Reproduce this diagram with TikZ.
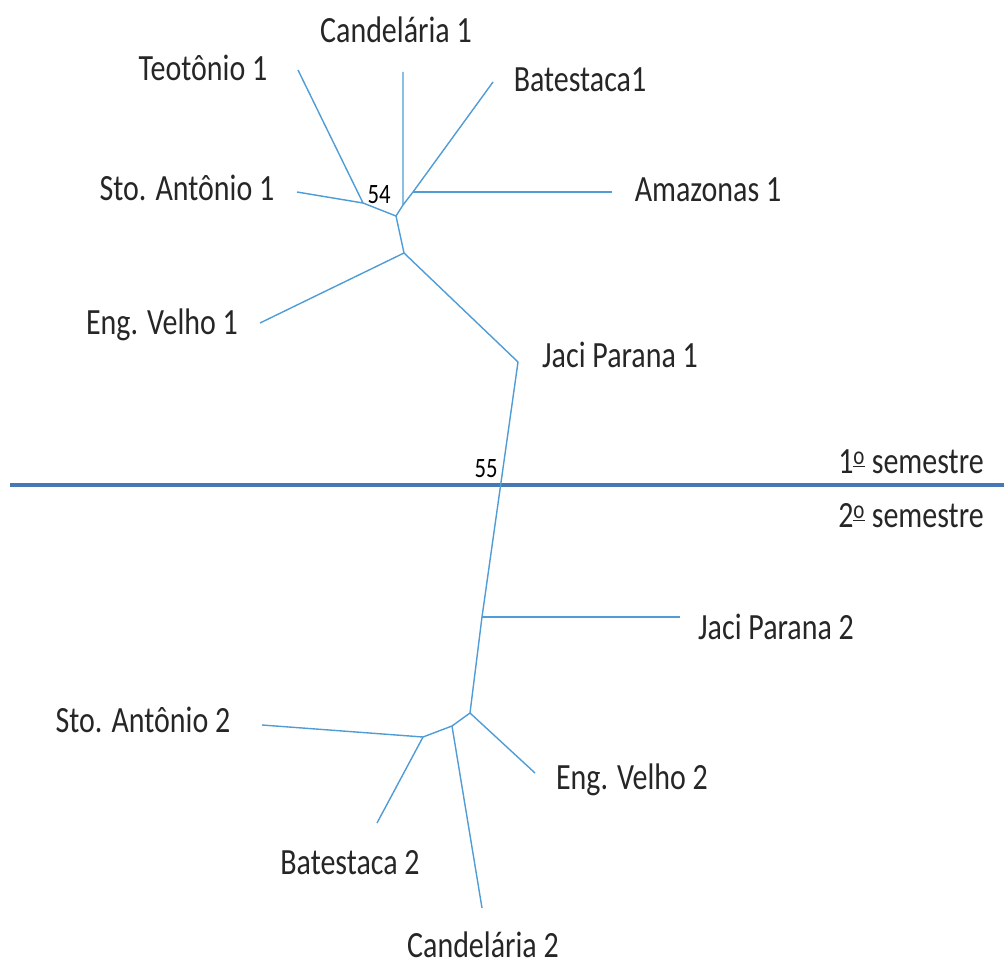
\documentclass[tikz,border=0pt]{standalone}
\usepackage{fontspec}
\setmainfont{Carlito}[FakeStretch=0.81]
\newcommand{\ordo}{\textsuperscript{\underline{\smash{o}}}}
\begin{document}
\begin{tikzpicture}[x=1pt,y=-1pt,
  branch/.style={draw={rgb,255:red,79;green,156;blue,214}, line width=1.4pt},
  divider/.style={draw={rgb,255:red,70;green,120;blue,180}, line width=4pt},
  lab/.style={font=\fontsize{37}{40}\selectfont, inner sep=0pt, text=black!85},
  num/.style={font=\fontsize{28}{30}\selectfont, inner sep=0pt, text=black}]
\useasboundingbox (0,0) rectangle (1004,966);
% leaves and junctions, upper tree
\coordinate (teo) at (298,70);
\coordinate (cand1) at (403,72);
\coordinate (bat1) at (493,82);
\coordinate (ama1) at (612,192);
\coordinate (sto1) at (297,192);
\coordinate (eng1) at (260,323);
\coordinate (jA) at (363,203);
\coordinate (jB) at (396,216);
\coordinate (jC) at (403,205);
\coordinate (jD) at (413,192);
\coordinate (jE) at (404,253);
\coordinate (jac1) at (518,362);
% lower tree
\coordinate (jF) at (482,617);
\coordinate (jac2) at (680,617);
\coordinate (jG) at (470,713);
\coordinate (eng2) at (535,773);
\coordinate (jH) at (452,726);
\coordinate (jI) at (423,737);
\coordinate (cand2) at (482,908);
\coordinate (sto2) at (262,725);
\coordinate (bat2) at (377,823);
% divider
\coordinate (divL) at (10,485);
\coordinate (divR) at (1004,485);
\draw[divider] (divL) -- (divR);
% branches
\draw[branch] (sto1) -- (jA) -- (jB);
\draw[branch] (teo) -- (jA);
\draw[branch] (cand1) -- (jC) -- (jB);
\draw[branch] (bat1) -- (jD) -- (jC);
\draw[branch] (jD) -- (ama1);
\draw[branch] (jB) -- (jE);
\draw[branch] (eng1) -- (jE);
\draw[branch] (jE) -- (jac1) -- (jF) -- (jG);
\draw[branch] (jF) -- (jac2);
\draw[branch] (jG) -- (eng2);
\draw[branch] (jG) -- (jH) -- (jI);
\draw[branch] (jH) -- (cand2);
\draw[branch] (jI) -- (sto2);
\draw[branch] (jI) -- (bat2);
% labels
\node[lab] (lteo) at (203,68) {Teotônio 1};
\node[lab] (lcand1) at (396,30) {Candelária 1};
\node[lab] (lbat1) at (580,80) {Batestaca1};
\node[lab] (lama1) at (708,190) {Amazonas 1};
\node[lab] (lsto1) at (187,188) {Sto. Antônio 1};
\node[num] (n54) at (379,195) {54};
\node[lab] (leng1) at (162,325) {Eng. Velho 1};
\node[lab] (ljac1) at (620,355) {Jaci Parana 1};
\node[lab] (lsem1) at (911,462) {1\ordo{} semestre};
\node[num] (n55) at (486,469) {55};
\node[lab] (lsem2) at (911,516) {2\ordo{} semestre};
\node[lab] (ljac2) at (776,627) {Jaci Parana 2};
\node[lab] (lsto2) at (143,720) {Sto. Antônio 2};
\node[lab] (leng2) at (632,780) {Eng. Velho 2};
\node[lab] (lbat2) at (350,863) {Batestaca 2};
\node[lab] (lcand2) at (483,945) {Candelária 2};
\end{tikzpicture}
\end{document}
